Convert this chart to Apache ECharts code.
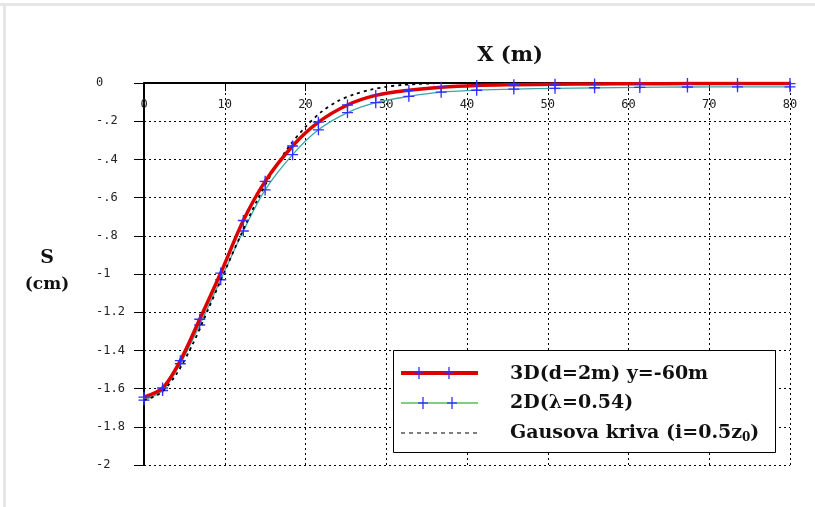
<!DOCTYPE html>
<html>
<head>
<meta charset="utf-8">
<script src="https://cdn.jsdelivr.net/npm/echarts@6/dist/echarts.min.js"></script>
<style>
  html, body { margin: 0; padding: 0; background: #fff; }
  #chart { width: 815px; height: 507px; }
</style>
</head>
<body>
<div id="chart"></div>
<script>
// x positions of the points (m)
const xPts = [0, 2.3, 4.5, 6.9, 9.5, 12.3, 15, 18.4, 21.6, 25.2, 28.7, 32.8, 36.8, 41.2, 45.8, 50.9, 55.8, 61.4, 67.3, 73.5, 80]
// 3D (d=2m) y=-60m
const s3d = [-1.645, -1.597, -1.454, -1.237, -0.995, -0.72, -0.515, -0.33, -0.205, -0.115, -0.065, -0.038, -0.022, -0.013, -0.009, -0.006, -0.005, -0.004, -0.003, -0.003, -0.003]
// 2D (lambda=0.54)
const s2d = [-1.66, -1.61, -1.47, -1.267, -1.03, -0.775, -0.56, -0.375, -0.245, -0.155, -0.103, -0.07, -0.048, -0.038, -0.032, -0.028, -0.025, -0.023, -0.021, -0.02, -0.02]
// Gausova kriva
const gaussX = [0, 2, 4, 6, 8, 10, 12, 14, 16, 18, 20, 22, 24, 26, 28, 30, 32, 34, 36]
const gaussS = [-1.66, -1.625, -1.525, -1.37, -1.18, -0.985, -0.795, -0.615, -0.46, -0.33, -0.23, -0.15, -0.095, -0.06, -0.036, -0.02, -0.01, -0.005, -0.002]

const legendNames = ['3D(d=2m) y=-60m', '2D(λ=0.54)', 'Gausova kriva (i=0.5z']

const chart = echarts.init(document.getElementById('chart'))

const plus = 'path://M0,4.4H10V5.6H0Z M4.4,0H5.6V10H4.4Z'
const serif = "'DejaVu Serif', 'Liberation Serif', serif"
const mono = "'DejaVu Sans Mono', monospace"
const blue = '#3030ff'

const zip = (xs, ys) => xs.map((x, i) => [x, ys[i]])

// legend drawn by hand (line + two crosses)
function legendRow (y, color, width, dash, marks) {
  const els = [{
    type: 'line',
    shape: { x1: 401, y1: y, x2: 478, y2: y },
    style: { stroke: color, lineWidth: width, lineDash: dash },
    z: 101
  }]
  marks.forEach(mx => {
    els.push({ type: 'line', shape: { x1: mx - 5, y1: y, x2: mx + 5, y2: y }, style: { stroke: blue, lineWidth: 1.3 }, z: 102 })
    els.push({ type: 'line', shape: { x1: mx, y1: y - 6, x2: mx, y2: y + 6 }, style: { stroke: blue, lineWidth: 1.3 }, z: 102 })
  })
  return els
}

const option = {
  backgroundColor: '#fff',
  animation: false,
  grid: { left: 144, right: 25, top: 83, bottom: 42, containLabel: false },
  xAxis: {
    type: 'value',
    position: 'top',
    min: 0,
    max: 80,
    interval: 10,
    axisLine: { onZero: false, lineStyle: { color: '#000', width: 2 } },
    axisTick: { inside: true, length: 8, lineStyle: { color: '#000' } },
    axisLabel: { inside: true, margin: 16, color: '#222', fontFamily: mono, fontSize: 12 },
    splitLine: { show: true, lineStyle: { color: '#000', type: [2, 3], width: 1 } }
  },
  yAxis: {
    type: 'value',
    min: -2,
    max: 0,
    interval: 0.2,
    axisLine: { onZero: false, lineStyle: { color: '#000', width: 2 } },
    axisTick: { length: 10, lineStyle: { color: '#000' } },
    axisLabel: {
      align: 'left',
      margin: 48,
      color: '#222',
      fontFamily: mono,
      fontSize: 12,
      formatter: v => String(+v.toFixed(1)).replace('0.', '.')
    },
    splitLine: { show: true, lineStyle: { color: '#000', type: [2, 3], width: 1 } }
  },
  series: [
    {
      name: legendNames[1],
      type: 'line',
      data: zip(xPts, s2d),
      smooth: 0.3,
      symbol: plus,
      symbolSize: 11,
      itemStyle: { color: blue },
      lineStyle: { color: '#3aa6a6', width: 1.3 },
      z: 3
    },
    {
      name: legendNames[2],
      type: 'line',
      data: zip(gaussX, gaussS),
      smooth: 0.3,
      showSymbol: false,
      lineStyle: { color: '#000', width: 1.8, type: [3, 4] },
      z: 4
    },
    {
      name: legendNames[0],
      type: 'line',
      data: zip(xPts, s3d),
      smooth: 0.3,
      symbol: plus,
      symbolSize: 11,
      itemStyle: { color: blue },
      lineStyle: { color: '#dd0000', width: 3.5 },
      z: 5
    }
  ],
  graphic: [
    { type: 'rect', shape: { x: 0, y: 3, width: 815, height: 3 }, style: { fill: '#e6e6e6' }, silent: true },
    { type: 'rect', shape: { x: 3, y: 3, width: 3, height: 504 }, style: { fill: '#e6e6e6' }, silent: true },
    {
      type: 'text', x: 510, y: 56,
      style: { text: 'X (m)', font: 'bold 21px ' + serif, fill: '#111', align: 'center', verticalAlign: 'middle' }
    },
    {
      type: 'text', x: 47, y: 258,
      style: { text: 'S', font: 'bold 19px ' + serif, fill: '#111', align: 'center', verticalAlign: 'middle' }
    },
    {
      type: 'text', x: 47, y: 285,
      style: { text: '(cm)', font: 'bold 17px ' + serif, fill: '#111', align: 'center', verticalAlign: 'middle' }
    },
    {
      type: 'rect', shape: { x: 393.5, y: 350.5, width: 382, height: 102 },
      style: { fill: '#fff', stroke: '#000', lineWidth: 1 }, z: 100
    },
    ...legendRow(373, '#dd0000', 4, null, [419, 449]),
    ...legendRow(403, '#5cb85c', 1.5, null, [423, 452]),
    ...legendRow(433, '#000', 1, [4, 4], []),
    {
      type: 'text', x: 510, y: 374, z: 103,
      style: { text: legendNames[0], font: 'bold 19px ' + serif, fill: '#111', verticalAlign: 'middle' }
    },
    {
      type: 'text', x: 510, y: 403, z: 103,
      style: { text: legendNames[1], font: 'bold 19px ' + serif, fill: '#111', verticalAlign: 'middle' }
    },
    {
      type: 'text', x: 510, y: 433, z: 103,
      style: {
        text: '{a|' + legendNames[2] + '}{s|0}{a|)}',
        verticalAlign: 'middle',
        rich: {
          a: { font: 'bold 19px ' + serif, fill: '#111', color: '#111' },
          s: { font: 'bold 12px ' + serif, fill: '#111', color: '#111', padding: [10, 0, 0, 0] }
        }
      }
    }
  ]
}

chart.setOption(option)
</script>
</body>
</html>
